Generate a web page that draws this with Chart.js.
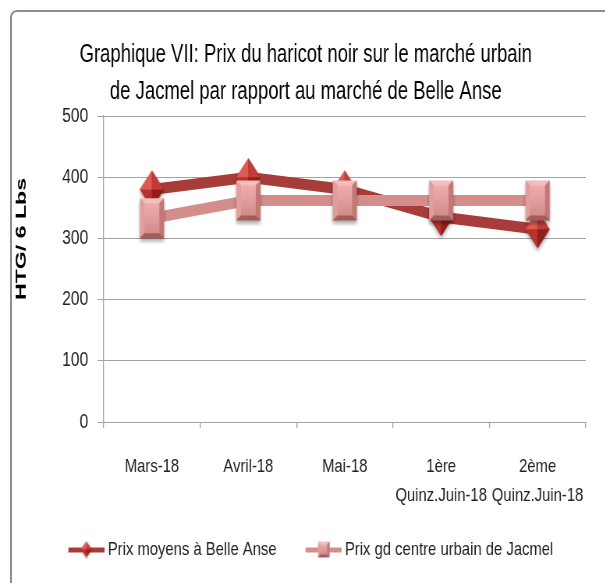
<!DOCTYPE html>
<html>
<head>
<meta charset="utf-8">
<script src="https://cdn.jsdelivr.net/npm/chart.js@4.4.1/dist/chart.umd.min.js"></script>
<style>
  html, body { margin: 0; padding: 0; background: #fff; }
  #wrap { position: relative; width: 605px; height: 583px; overflow: hidden; }
  #frame { position: absolute; left: 10px; top: 10px; width: 700px; height: 700px;
           border: 2px solid #8e8e8e; border-radius: 7px; box-sizing: border-box; }
  /* the original picture is squeezed sideways, so the whole drawing is too */
  #squeeze { position: absolute; left: 0; top: 0; width: 776px; height: 583px;
             transform: scaleX(0.78); transform-origin: 0 0; }
</style>
</head>
<body>
<div id="wrap">
  <div id="frame"></div>
  <div id="squeeze"><canvas id="chart" width="776" height="583"></canvas></div>
</div>
<script>
// Chart values
const categories = ['Mars-18', 'Avril-18', 'Mai-18', ['1ère', 'Quinz.Juin-18'], ['2ème', 'Quinz.Juin-18']];
const belleAnse = [380, 400, 380, 335, 315];
const jacmel = [333, 362, 362, 362, 362];
const yTicks = [0, 100, 200, 300, 400, 500];
const seriesNames = ['Prix moyens à Belle Anse', 'Prix gd centre urbain de Jacmel'];
const titleLines = ['Graphique VII: Prix du haricot noir sur le marché urbain',
                    'de Jacmel par rapport au marché de Belle Anse'];
const yTitle = 'HTG/ 6 Lbs';

const sans = "'Liberation Sans', Arial, sans-serif";
const darkRed = '#a83c3a';
const lightRed = '#d38e8c';
const gridGrey = '#a3a3a3';

function poly(g, pts, fill) {
  g.beginPath();
  g.moveTo(pts[0][0], pts[0][1]);
  pts.slice(1).forEach((p) => g.lineTo(p[0], p[1]));
  g.closePath();
  g.fillStyle = fill;
  g.fill();
}

// 3D-looking diamond used for the Belle Anse points
function makeDiamond(w, h, pad) {
  const c = document.createElement('canvas');
  c.width = w + pad * 2; c.height = h + pad * 2;
  const g = c.getContext('2d');
  const cx = c.width / 2, cy = c.height / 2;
  const top = [cx, cy - h / 2], right = [cx + w / 2, cy], bottom = [cx, cy + h / 2], left = [cx - w / 2, cy];
  const mid = [cx, cy];
  if (pad) {
    g.save();
    g.shadowColor = 'rgba(0,0,0,0.35)'; g.shadowBlur = 4; g.shadowOffsetY = 3;
    poly(g, [top, right, bottom, left], '#9c2a27');
    g.restore();
  }
  poly(g, [top, mid, left], '#dc5a52');
  poly(g, [top, right, mid], '#c03c36');
  poly(g, [left, mid, bottom], '#b9332e');
  poly(g, [mid, right, bottom], '#8f201d');
  return c;
}

// bevelled block used for the Jacmel points
function makeBlock(w, h, pad, bx, by) {
  const c = document.createElement('canvas');
  c.width = w + pad * 2; c.height = h + pad * 2;
  const g = c.getContext('2d');
  const x0 = pad, y0 = pad, x1 = pad + w, y1 = pad + h;
  if (pad) {
    g.save();
    g.shadowColor = 'rgba(0,0,0,0.35)'; g.shadowBlur = 4; g.shadowOffsetY = 3;
    g.fillStyle = '#c07a78';
    g.fillRect(x0, y0, w, h);
    g.restore();
  }
  poly(g, [[x0, y0], [x1, y0], [x1 - bx, y0 + by], [x0 + bx, y0 + by]], '#f3bdbb');
  poly(g, [[x0, y0], [x0 + bx, y0 + by], [x0 + bx, y1 - by], [x0, y1]], '#e29e9c');
  poly(g, [[x1, y0], [x1, y1], [x1 - bx, y1 - by], [x1 - bx, y0 + by]], '#c47775');
  poly(g, [[x0, y1], [x0 + bx, y1 - by], [x1 - bx, y1 - by], [x1, y1]], '#a45c5a');
  const grad = g.createLinearGradient(0, y0 + by, 0, y1 - by);
  grad.addColorStop(0, '#eeaeac');
  grad.addColorStop(1, '#d28c8a');
  g.fillStyle = grad;
  g.fillRect(x0 + bx, y0 + by, w - 2 * bx, h - 2 * by);
  return c;
}

// legend swatch: a short line with the marker, with blank room on the left
// so the items sit further apart
function makeLegendIcon(color, marker) {
  const c = document.createElement('canvas');
  c.width = 58; c.height = 18;
  const g = c.getContext('2d');
  g.fillStyle = color;
  g.fillRect(12, 7, 46, 5);
  g.drawImage(marker, 12 + (46 - marker.width) / 2, (18 - marker.height) / 2);
  return c;
}

const diamondPoint = makeDiamond(31, 38, 6);
const blockPoint = makeBlock(31, 40, 6, 6, 5);
const legendIcons = [
  makeLegendIcon(darkRed, makeDiamond(15, 17, 0)),
  makeLegendIcon(lightRed, makeBlock(15, 16, 0, 3, 3)),
];

// Title and y title, fitted to the widths seen in the picture
const fittedText = {
  id: 'fittedText',
  afterDraw(chart) {
    const ctx = chart.ctx;
    ctx.save();
    ctx.fillStyle = '#000';
    ctx.textAlign = 'center';
    ctx.textBaseline = 'alphabetic';
    ctx.font = `25px ${sans}`;
    const sx = 580 / ctx.measureText(titleLines[0]).width;
    titleLines.forEach((line, i) => {
      ctx.save();
      ctx.translate(392, 62 + i * 37);
      ctx.scale(sx, 1);
      ctx.fillText(line, 0, 0);
      ctx.restore();
    });
    ctx.font = `bold 18px ${sans}`;
    const sy = 122 / ctx.measureText(yTitle).width;
    ctx.translate(28, 239);
    ctx.rotate(-Math.PI / 2);
    ctx.scale(sy, 1);
    ctx.textBaseline = 'middle';
    ctx.fillText(yTitle, 0, 0);
    ctx.restore();
  }
};

new Chart(document.getElementById('chart'), {
  type: 'line',
  data: {
    labels: categories,
    datasets: [
      {
        label: seriesNames[0], data: belleAnse, order: 2,
        borderColor: darkRed, backgroundColor: darkRed, borderWidth: 11,
        pointStyle: diamondPoint, pointRadius: 14, tension: 0,
      },
      {
        label: seriesNames[1], data: jacmel, order: 1,
        borderColor: lightRed, backgroundColor: lightRed, borderWidth: 11,
        pointStyle: blockPoint, pointRadius: 14, tension: 0,
      },
    ],
  },
  options: {
    responsive: false,
    animation: false,
    events: [],
    layout: { padding: { top: 116, left: 16, right: 2, bottom: 14 } },
    plugins: {
      title: { display: false },
      tooltip: { enabled: false },
      legend: {
        position: 'bottom',
        labels: {
          color: '#222',
          font: { family: sans, size: 19 },
          usePointStyle: true,
          pointStyleWidth: 48,
          boxHeight: 18,
          padding: 30,
          sort: (a, b) => a.datasetIndex - b.datasetIndex,
          generateLabels: (chart) => {
            const items = Chart.defaults.plugins.legend.labels.generateLabels(chart);
            items.forEach((item) => { item.pointStyle = legendIcons[item.datasetIndex]; });
            return items;
          },
        },
      },
    },
    scales: {
      x: {
        offset: true,
        grid: { display: true, offset: true, drawOnChartArea: false, drawTicks: true, tickLength: 6,
                color: gridGrey, lineWidth: 1.3 },
        border: { display: true, color: gridGrey },
        ticks: {
          color: '#222', padding: 25, maxRotation: 0, autoSkip: false,
          font: { family: sans, size: 19, lineHeight: 1.5 },
        },
        afterFit: (scale) => { scale.height = 88; },
      },
      y: {
        min: 0, max: 500,
        afterBuildTicks: (scale) => { scale.ticks = yTicks.map((v) => ({ value: v })); },
        grid: { color: gridGrey, tickLength: 8 },
        border: { display: true, color: gridGrey, width: 1.3 },
        ticks: { color: '#222', padding: 12, font: { family: sans, size: 20 } },
        afterFit: (scale) => { scale.width = 117; },
      },
    },
  },
  plugins: [fittedText],
});
</script>
</body>
</html>
